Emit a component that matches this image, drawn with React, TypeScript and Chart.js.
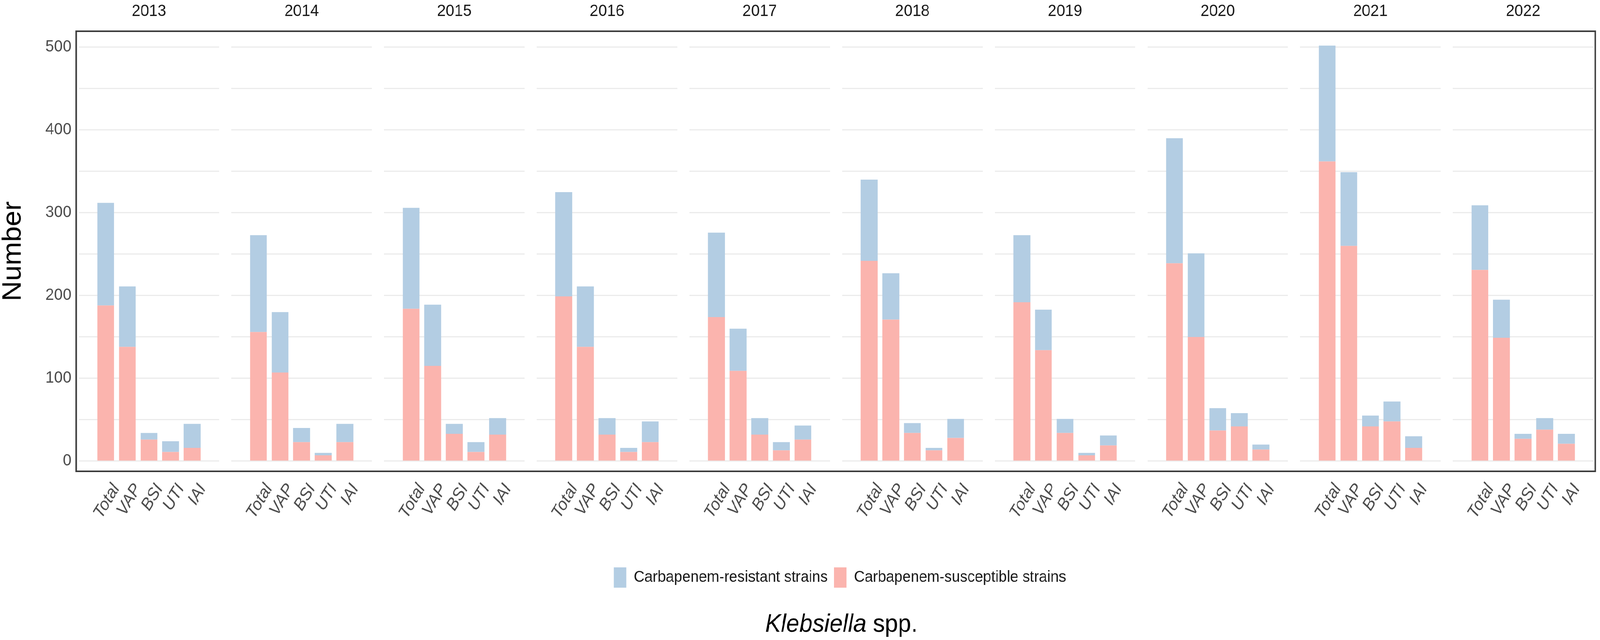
import { useEffect, useRef, useState } from "react";
import { Chart, registerables } from "chart.js";

Chart.register(...registerables);

const YEARS = ["2013", "2014", "2015", "2016", "2017", "2018", "2019", "2020", "2021", "2022"];
const SITES = ["Total", "VAP", "BSI", "UTI", "IAI"];

// one row per year, columns in SITES order
const SUSCEPTIBLE = [
  [188, 138, 26, 11, 16],
  [156, 107, 23, 7, 23],
  [184, 115, 33, 11, 32],
  [199, 138, 32, 11, 23],
  [174, 109, 32, 13, 26],
  [242, 171, 34, 13, 28],
  [192, 134, 34, 7, 19],
  [239, 150, 37, 42, 14],
  [362, 260, 42, 48, 16],
  [231, 149, 27, 38, 21],
];
const RESISTANT = [
  [124, 73, 8, 13, 29],
  [117, 73, 17, 3, 22],
  [122, 74, 12, 12, 20],
  [126, 73, 20, 5, 25],
  [102, 51, 20, 10, 17],
  [98, 56, 12, 3, 23],
  [81, 49, 17, 3, 12],
  [151, 101, 27, 16, 6],
  [140, 89, 13, 24, 14],
  [78, 46, 6, 14, 12],
];
const Y_TICKS = [0, 50, 100, 150, 200, 250, 300, 350, 400, 450, 500];

const RESISTANT_LABEL = "Carbapenem-resistant strains";
const SUSCEPTIBLE_LABEL = "Carbapenem-susceptible strains";
const GENUS = "Klebsiella";
const SUFFIX = " spp.";

const BLUE = "#B3CDE3";
const PINK = "#FBB4AE";
const SANS = "'Liberation Sans', Arial, sans-serif";

// layout in design px; the whole 4328 x 1639 sheet is scaled to the window
const W = 4328;
const H = 1639;
const PLOT_LEFT = 213;
const PANEL_W = 380;
const PANEL_STEP = 413;
const YAXIS_W = 213;
const SIDE = 30;
const CANVAS_H = 1420;
const XAXIS_H = 220;
const TITLE_SIZE = 42;

Chart.defaults.font.family = SANS;

const axisTitle = {
  id: "axisTitle",
  afterDraw(chart: Chart) {
    const { ctx } = chart;
    const italic = `italic 64px ${SANS}`;
    const upright = `64px ${SANS}`;
    ctx.save();
    ctx.fillStyle = "#000000";
    ctx.textBaseline = "alphabetic";
    ctx.font = italic;
    const w1 = ctx.measureText(GENUS).width;
    ctx.font = upright;
    const w2 = ctx.measureText(SUFFIX).width;
    const x = 2276 - (w1 + w2) / 2;
    ctx.font = italic;
    ctx.fillText(GENUS, x, 1618);
    ctx.font = upright;
    ctx.fillText(SUFFIX, x + w1, 1618);
    ctx.restore();
  },
};

function Frame() {
  const canvasRef = useRef<HTMLCanvasElement>(null);

  useEffect(() => {
    const canvas = canvasRef.current;
    if (!canvas) return;
    const chart = new Chart(canvas, {
      type: "bar",
      data: {
        labels: [],
        datasets: [
          { label: RESISTANT_LABEL, data: [], backgroundColor: BLUE, borderWidth: 0 },
          { label: SUSCEPTIBLE_LABEL, data: [], backgroundColor: PINK, borderWidth: 0 },
        ],
      },
      options: {
        responsive: false,
        animation: false,
        layout: { padding: { left: 216, bottom: 124 } },
        scales: { x: { display: false }, y: { display: false } },
        plugins: {
          tooltip: { enabled: false },
          legend: {
            position: "bottom",
            labels: {
              boxWidth: 34,
              boxHeight: 52,
              padding: 17,
              color: "#1A1A1A",
              font: { family: SANS, size: 40 },
            },
          },
        },
      },
      plugins: [axisTitle],
    });
    return () => chart.destroy();
  }, []);

  return (
    <canvas
      ref={canvasRef}
      width={W}
      height={H}
      style={{ position: "absolute", left: 0, top: 0 }}
    />
  );
}

function Panel({ index }: { index: number }) {
  const canvasRef = useRef<HTMLCanvasElement>(null);
  const first = index === 0;
  const left = first ? 0 : PLOT_LEFT + PANEL_STEP * index - SIDE;
  const width = first ? YAXIS_W + PANEL_W + SIDE : PANEL_W + 2 * SIDE;

  useEffect(() => {
    const canvas = canvasRef.current;
    if (!canvas) return;

    const chart = new Chart(canvas, {
      type: "bar",
      data: {
        datasets: [
          {
            label: SUSCEPTIBLE_LABEL,
            data: SUSCEPTIBLE[index].map((y, x) => ({ x, y })),
            backgroundColor: PINK,
          },
          {
            label: RESISTANT_LABEL,
            data: RESISTANT[index].map((y, x) => ({ x, y })),
            backgroundColor: BLUE,
          },
        ],
      },
      options: {
        responsive: false,
        animation: false,
        layout: { padding: { left: first ? 0 : SIDE, right: SIDE, top: 0, bottom: 0 } },
        datasets: { bar: { categoryPercentage: 1, barPercentage: 0.78, borderWidth: 0 } },
        plugins: {
          legend: { display: false },
          tooltip: { enabled: false },
          title: {
            display: true,
            text: YEARS[index],
            fullSize: false,
            color: "#1A1A1A",
            font: { family: SANS, size: TITLE_SIZE, weight: "normal", lineHeight: 1.2 },
            padding: { top: 4, bottom: 87 - TITLE_SIZE * 1.2 - 4 },
          },
        },
        scales: {
          x: {
            type: "linear",
            stacked: true,
            min: -0.6,
            max: 4.6,
            grid: { display: false },
            border: { display: false },
            afterBuildTicks: (axis) => {
              axis.ticks = SITES.map((_, i) => ({ value: i }));
            },
            afterFit: (axis) => {
              axis.height = XAXIS_H;
              axis.paddingLeft = 0;
              axis.paddingRight = 0;
            },
            ticks: {
              autoSkip: false,
              minRotation: 58,
              maxRotation: 58,
              padding: 22,
              labelOffset: 28,
              color: "#4D4D4D",
              font: { family: SANS, size: 44, style: "italic" },
              callback: (v) => SITES[Number(v)] ?? "",
            },
          },
          y: {
            stacked: true,
            min: -9,
            max: 516,
            grid: { color: "#EBEBEB", lineWidth: 3, drawTicks: false },
            border: { display: false },
            afterBuildTicks: (axis) => {
              axis.ticks = Y_TICKS.map((value) => ({ value }));
            },
            afterFit: (axis) => {
              axis.width = first ? YAXIS_W : 0;
              axis.paddingTop = 0;
              axis.paddingBottom = 0;
            },
            ticks: {
              display: first,
              padding: 20,
              color: "#4D4D4D",
              font: { family: SANS, size: 42 },
              callback: (v) => (Number(v) % 100 === 0 ? String(v) : ""),
            },
            title: {
              display: first,
              text: "Number",
              color: "#000000",
              padding: { top: 0, bottom: 0 },
              font: { family: SANS, size: 72, lineHeight: 1 },
            },
          },
        },
      },
    });

    return () => chart.destroy();
  }, [index, first]);

  return (
    <canvas
      ref={canvasRef}
      width={width}
      height={CANVAS_H}
      style={{ position: "absolute", left, top: 0 }}
    />
  );
}

export default function App() {
  const [view, setView] = useState({ w: window.innerWidth, h: window.innerHeight });
  useEffect(() => {
    const onResize = () => setView({ w: window.innerWidth, h: window.innerHeight });
    window.addEventListener("resize", onResize);
    return () => window.removeEventListener("resize", onResize);
  }, []);

  return (
    <div
      style={{
        position: "absolute",
        left: 0,
        top: 0,
        width: W,
        height: H,
        background: "#FFFFFF",
        overflow: "hidden",
        transformOrigin: "0 0",
        transform: `scale(${view.w / W}, ${view.h / H})`,
      }}
    >
      <Frame />
      {YEARS.map((year, i) => (
        <Panel key={year} index={i} />
      ))}
      <div
        style={{
          position: "absolute",
          left: 204,
          top: 78,
          width: 4113,
          height: 1131,
          border: "4px solid #3C3C3C",
          boxSizing: "border-box",
          pointerEvents: "none",
        }}
      />
    </div>
  );
}
